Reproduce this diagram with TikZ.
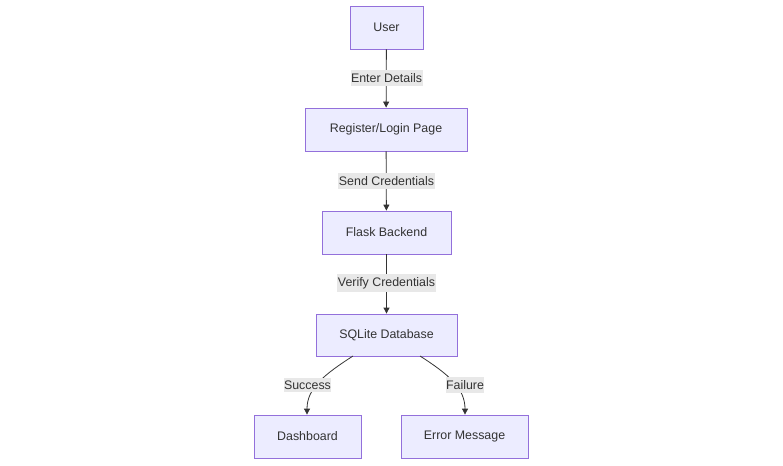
\documentclass[tikz,border=0pt]{standalone}
\usepackage{fontspec}
\setmainfont{Liberation Sans}
\usetikzlibrary{arrows.meta}
\definecolor{nodefill}{HTML}{ECECFF}
\definecolor{nodeline}{HTML}{9370DB}
\definecolor{edgecol}{HTML}{333333}
\definecolor{lblbg}{HTML}{E8E8E8}
\tikzset{
  box/.style={draw=nodeline, fill=nodefill, line width=0.8pt, inner sep=0pt, font=\fontsize{12.4}{14}\selectfont, text=edgecol},
  conn/.style={draw=edgecol, line width=0.8pt, -{Triangle[length=6pt,width=6pt]}},
  lbl/.style={fill=lblbg, inner xsep=0.5pt, inner ysep=3pt, font=\fontsize{12.4}{14}\selectfont, text=edgecol},
}
\begin{document}
\begin{tikzpicture}[x=1pt,y=-1pt]
\useasboundingbox (0,0) rectangle (783,465);
\node[box, minimum width=73pt, minimum height=43pt] (user) at (386.5,27.5) {User};
\node[box, minimum width=162pt, minimum height=43pt] (reg) at (386,129.5) {Register/Login Page};
\node[box, minimum width=129pt, minimum height=43pt] (flask) at (386.5,232.5) {Flask Backend};
\node[box, minimum width=141pt, minimum height=42pt] (db) at (386.5,335) {SQLite Database};
\node[box, minimum width=107pt, minimum height=43pt] (dash) at (307.5,436.5) {Dashboard};
\node[box, minimum width=127pt, minimum height=43pt] (err) at (464.5,436.5) {Error Message};

\draw[conn] (user) -- (reg);
\draw[conn] (reg) -- (flask);
\draw[conn] (flask) -- (db);
\coordinate (s1) at (353,356);
\coordinate (f1) at (420,356);
\draw[conn] (s1) .. controls (325,374) and (307,388) .. (dash.north -| 307,0);
\draw[conn] (f1) .. controls (448,374) and (465,388) .. (err.north -| 465,0);

\node[lbl] (l1) at (386.5,78) {Enter Details};
\node[lbl] (l2) at (386.5,181) {Send Credentials};
\node[lbl] (l3) at (386.5,283) {Verify Credentials};
\node[lbl] (l4) at (307.5,385) {Success};
\node[lbl] (l5) at (465,385) {Failure};
\end{tikzpicture}
\end{document}
